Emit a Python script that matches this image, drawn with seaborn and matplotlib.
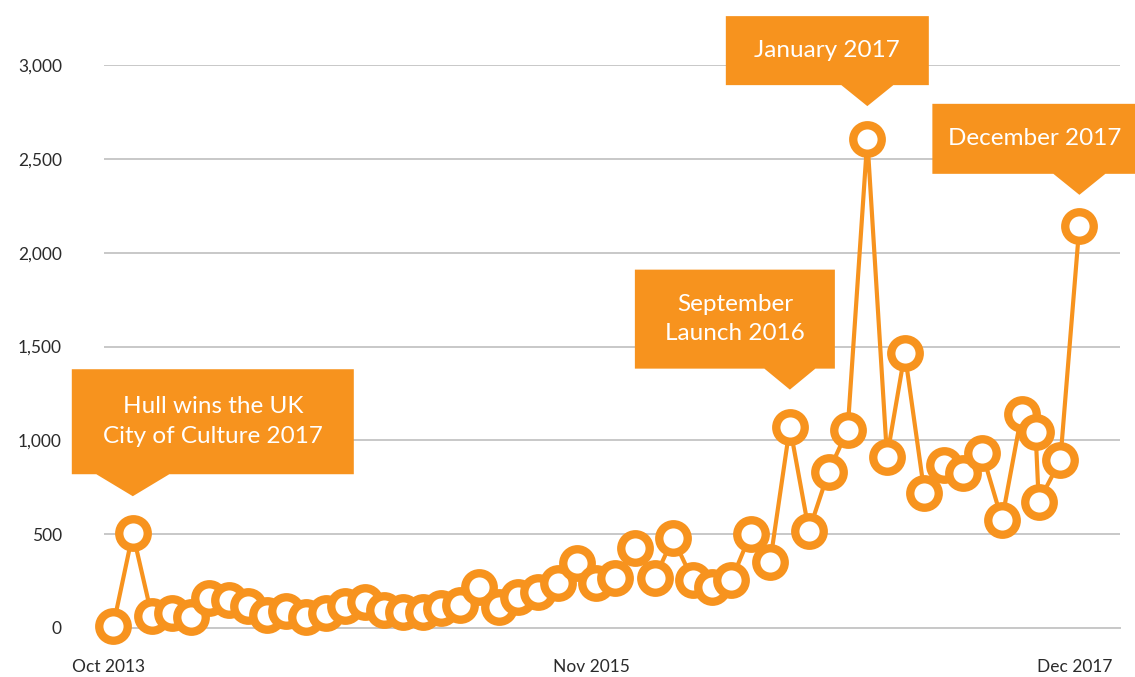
import numpy as np
import pandas as pd
import matplotlib
matplotlib.use("Agg")
import matplotlib.pyplot as plt
import matplotlib.dates as mdates
import matplotlib.transforms as mtransforms
from matplotlib.patches import Polygon
from matplotlib.ticker import FuncFormatter
import seaborn as sns

ORANGE = "#F7931E"
GRID = "#C8C8C8"
TEXT = "#2B2B2B"

# monthly points Oct 2013 .. Sep 2017, then the irregular tail of the series
months = pd.date_range("2013-10-01", "2017-09-01", freq="MS")
tail_dates = pd.to_datetime(["2017-09-23", "2017-09-28", "2017-11-01", "2017-12-01"])
dates = months.append(tail_dates)

values = [
    10, 505, 64, 78, 60, 158, 149, 117, 69, 91, 57, 78,          # Oct 13 - Sep 14
    117, 140, 96, 87, 87, 105, 123, 220, 114, 167, 194, 238,     # Oct 14 - Sep 15
    345, 238, 265, 425, 265, 478, 256, 220, 256, 500, 354, 1073, # Oct 15 - Sep 16
    517, 833, 1055, 2605, 913, 1464, 718, 869, 825, 931, 576,    # Oct 16 - Aug 17
    1140,                                                         # Sep 17
    1046, 673, 893, 2143,
]

tick_dates = pd.date_range("2013-10-01", "2018-02-01", freq="MS")
labelled_ticks = {"2013-10-01": "Oct 2013", "2015-11-01": "Nov 2015",
                  "2017-12-01": "Dec 2017"}
y_ticks = [0, 500, 1000, 1500, 2000, 2500, 3000]

callout_texts = ["Hull wins the UK\nCity of Culture 2017",
                 "September\nLaunch 2016",
                 "January 2017",
                 "December 2017"]
callout_dates = ["2013-11-01", "2016-09-01", "2017-01-01", "2017-12-01"]

# box width, box height, box-centre offset from pointer, pointer width,
# pointer height, gap pointer->point   (all in pixels)
callout_layout = [
    (282, 105, 80, 73, 22, 37),
    (200, 99, -55, 51, 21, 37),
    (203, 69, -40, 52, 21, 33),
    (204, 70, -45, 52, 21, 31),
]

sns.set_style("white")
plt.rcParams["font.family"] = ["Lato", "DejaVu Sans"]

W, H = 1135, 677
fig = plt.figure(figsize=(W / 100, H / 100), dpi=100)
ax = fig.add_axes([103.6 / W, 49 / H, (1120 - 103.6) / W, 563 / H])

sns.lineplot(x=dates, y=values, ax=ax, color=ORANGE, linewidth=3,
             marker="o", markersize=20.5, markerfacecolor="white",
             markeredgecolor=ORANGE, markeredgewidth=6,
             clip_on=False, zorder=4)
line = ax.lines[0]
line.set_markerfacecolor("white")
line.set_markeredgecolor(ORANGE)
line.set_markeredgewidth(6)

ax.set_xlim(pd.Timestamp("2013-09-16"), pd.Timestamp("2018-02-03"))
ax.set_ylim(0, 3000)

ax.set_xticks(tick_dates)
ax.set_xticklabels([labelled_ticks.get(d.strftime("%Y-%m-%d"), "")
                    for d in tick_dates])
ax.set_yticks(y_ticks)
ax.yaxis.set_major_formatter(FuncFormatter(lambda v, p: f"{v:,.0f}"))

ax.tick_params(axis="x", length=14.4, width=1.4, color=GRID, pad=8,
               labelsize=12.5, labelcolor=TEXT)
ax.tick_params(axis="y", length=0, pad=30, labelsize=12.5, labelcolor=TEXT)
ax.grid(True, axis="y", color=GRID, linewidth=1.4)
ax.grid(False, axis="x")
ax.set_axisbelow(True)
for s in ["top", "right", "left"]:
    ax.spines[s].set_visible(False)
ax.spines["bottom"].set_color(GRID)
ax.spines["bottom"].set_linewidth(1.4)
ax.set_xlabel("")
ax.set_ylabel("")

shift = mtransforms.ScaledTranslation(-5 / 100, 0, fig.dpi_scale_trans)
for lab in ax.get_xticklabels():
    lab.set_transform(lab.get_transform() + shift)

# callout boxes with a pointer, built in pixel space above each point
ident = mtransforms.IdentityTransform()
series = pd.Series(values, index=dates)
for text, d, (bw, bh, dx, tw, th, gap) in zip(callout_texts, callout_dates,
                                             callout_layout):
    t = pd.Timestamp(d)
    px, py = ax.transData.transform((mdates.date2num(t), series[t]))
    tip_y = py + gap
    bot = tip_y + th
    cx = px + dx
    verts = [(cx - bw / 2, bot), (px - tw / 2, bot), (px, tip_y),
             (px + tw / 2, bot), (cx + bw / 2, bot), (cx + bw / 2, bot + bh),
             (cx - bw / 2, bot + bh)]
    fig.add_artist(Polygon(verts, closed=True, facecolor=ORANGE,
                           edgecolor="none", transform=ident, zorder=10))
    fig.text(cx, bot + bh / 2, text, transform=ident, ha="center",
             va="center", color="white", fontsize=17.5, linespacing=1.5,
             zorder=11)

fig.savefig("out.png", dpi=100)
